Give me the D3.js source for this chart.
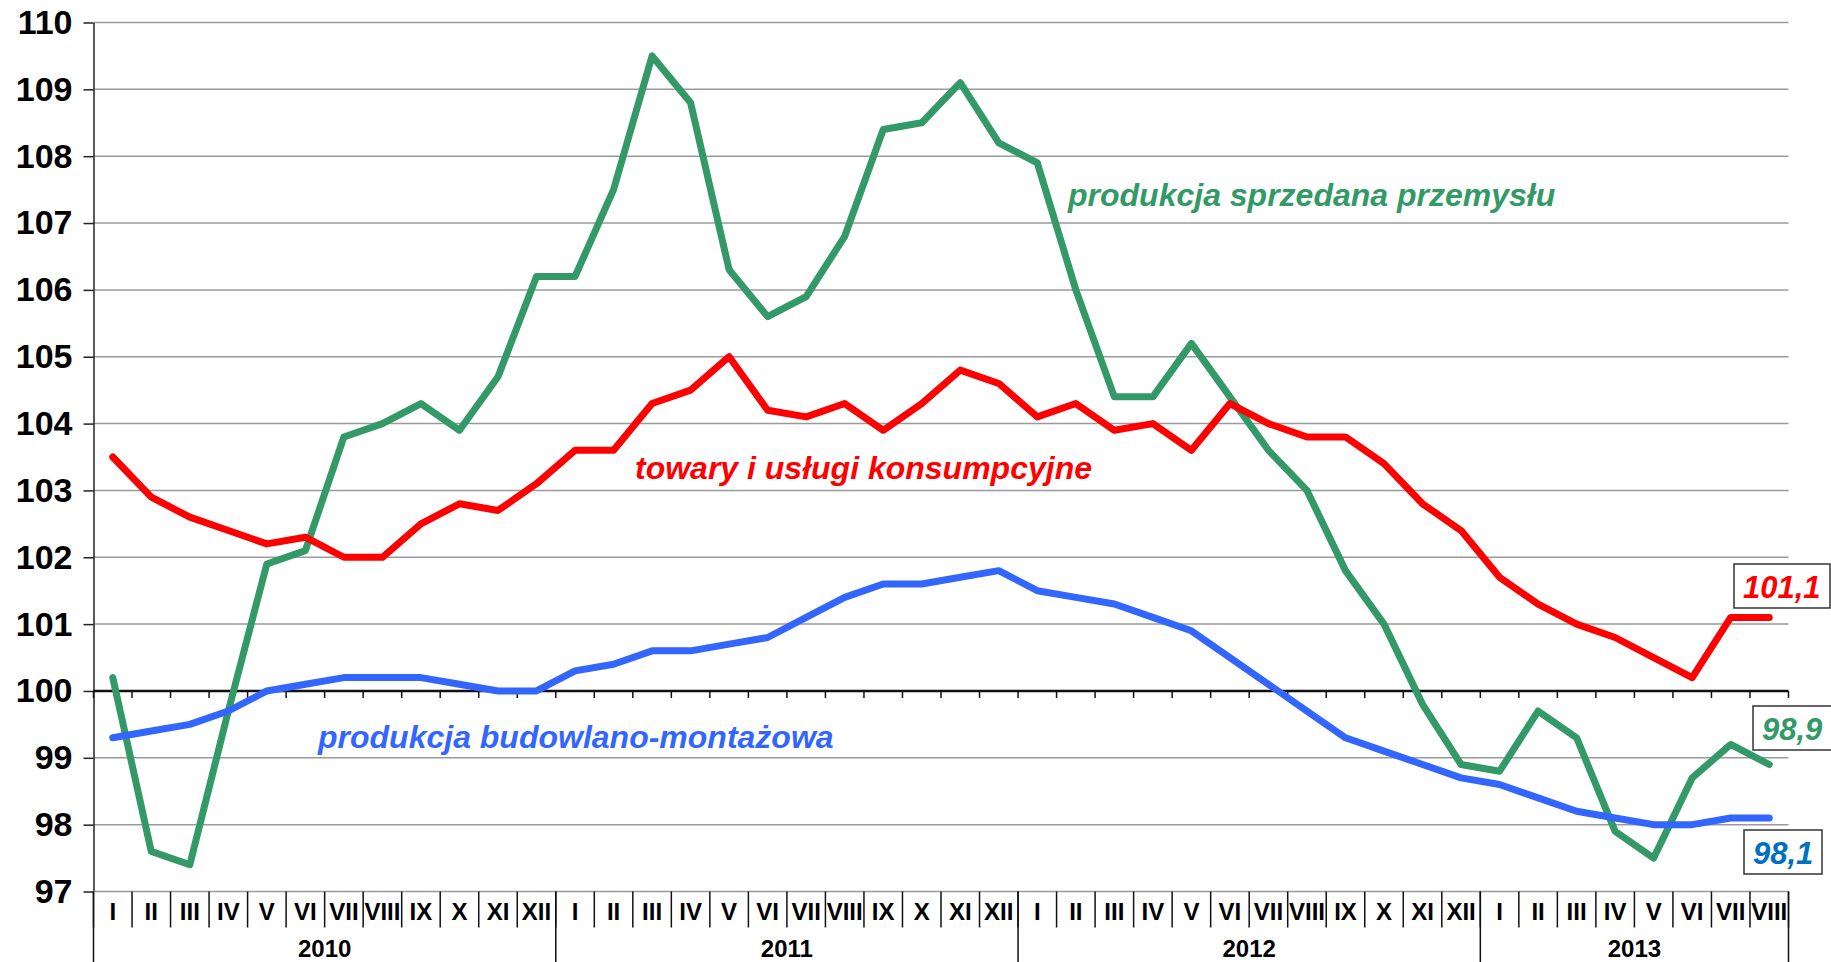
<!DOCTYPE html>
<html>
<head>
<meta charset="utf-8">
<script src="https://cdn.jsdelivr.net/npm/d3@7"></script>
<style>
  body { margin: 0; background: #fff; }
  svg text { font-family: Arial, "Liberation Sans", sans-serif; font-weight: bold; }
</style>
</head>
<body>
<script>
// month and year labels
var monthNames = ["I", "II", "III", "IV", "V", "VI", "VII", "VIII", "IX", "X", "XI", "XII"];
var years = ["2010", "2011", "2012", "2013"];
var monthsInYear = [12, 12, 12, 8];
var yTicks = [97, 98, 99, 100, 101, 102, 103, 104, 105, 106, 107, 108, 109, 110];

// series
var industry = [100.2, 97.6, 97.4, 99.7, 101.9, 102.1, 103.8, 104.0, 104.3, 103.9, 104.7, 106.2,
                106.2, 107.5, 109.5, 108.8, 106.3, 105.6, 105.9, 106.8, 108.4, 108.5, 109.1, 108.2,
                107.9, 106.0, 104.4, 104.4, 105.2, 104.4, 103.6, 103.0, 101.8, 101.0, 99.8, 98.9,
                98.8, 99.7, 99.3, 97.9, 97.5, 98.7, 99.2, 98.9];
var consumer = [103.5, 102.9, 102.6, 102.4, 102.2, 102.3, 102.0, 102.0, 102.5, 102.8, 102.7, 103.1,
                103.6, 103.6, 104.3, 104.5, 105.0, 104.2, 104.1, 104.3, 103.9, 104.3, 104.8, 104.6,
                104.1, 104.3, 103.9, 104.0, 103.6, 104.3, 104.0, 103.8, 103.8, 103.4, 102.8, 102.4,
                101.7, 101.3, 101.0, 100.8, 100.5, 100.2, 101.1, 101.1];
var construction = [99.3, 99.4, 99.5, 99.7, 100.0, 100.1, 100.2, 100.2, 100.2, 100.1, 100.0, 100.0,
                100.3, 100.4, 100.6, 100.6, 100.7, 100.8, 101.1, 101.4, 101.6, 101.6, 101.7, 101.8,
                101.5, 101.4, 101.3, 101.1, 100.9, 100.5, 100.1, 99.7, 99.3, 99.1, 98.9, 98.7,
                98.6, 98.4, 98.2, 98.1, 98.0, 98.0, 98.1, 98.1];

var width = 1831, height = 962;
var plotLeft = 93.5, plotRight = 1788.5, plotTop = 22.5, plotBottom = 891.5;

// index list of months
var idx = [];
var monthLabels = [];
years.forEach(function(yr, i) {
  for (var m = 0; m < monthsInYear[i]; m++) { idx.push(idx.length); monthLabels.push(monthNames[m]); }
});

var svg = d3.select("body").append("svg")
  .attr("width", width).attr("height", height);

var x = d3.scaleBand().domain(idx).range([plotLeft, plotRight]).paddingInner(0).paddingOuter(0);
var y = d3.scaleLinear().domain([97, 110]).range([plotBottom, plotTop]);
var bw = x.bandwidth();

// grid
svg.append("g").selectAll("line")
  .data(yTicks.filter(function(d) { return d != 100 && d != 97; }))
  .enter().append("line")
  .attr("x1", plotLeft).attr("x2", plotRight)
  .attr("y1", function(d) { return y(d); }).attr("y2", function(d) { return y(d); })
  .attr("stroke", "#9a9a9a").attr("stroke-width", 1.5);

// y axis
var yAxis = svg.append("g")
  .attr("transform", "translate(" + plotLeft + ",0)")
  .call(d3.axisLeft(y).tickValues(yTicks).tickSize(10).tickPadding(11).tickSizeOuter(0).tickFormat(d3.format("d")));
yAxis.select(".domain").attr("stroke", "#222").attr("stroke-width", 1.5);
yAxis.selectAll(".tick line").attr("stroke", "#222").attr("stroke-width", 1.5);
yAxis.selectAll(".tick text").attr("font-size", "34px").attr("fill", "#000")
  .attr("font-family", "Arial, 'Liberation Sans', sans-serif").attr("font-weight", "bold");

// bottom category line at 97
svg.append("line").attr("x1", plotLeft).attr("x2", plotRight).attr("y1", plotBottom).attr("y2", plotBottom)
  .attr("stroke", "#9a9a9a").attr("stroke-width", 1.5);

// month separators and labels
var bounds = idx.concat([idx.length]);
function bx(i) { return plotLeft + i * bw; }
svg.append("g").selectAll("line").data(bounds).enter().append("line")
  .attr("x1", bx).attr("x2", bx)
  .attr("y1", plotBottom).attr("y2", plotBottom + 36)
  .attr("stroke", "#111").attr("stroke-width", 1.5);

svg.append("g").selectAll("text").data(idx).enter().append("text")
  .attr("x", function(d) { return x(d) + bw / 2; })
  .attr("y", 920)
  .attr("text-anchor", "middle")
  .attr("font-size", "24px")
  .attr("fill", "#000")
  .text(function(d) { return monthLabels[d]; });

// year separators and labels
var start = 0, yearStarts = [];
monthsInYear.forEach(function(n) { yearStarts.push(start); start += n; });
var yearBounds = yearStarts.concat([idx.length]);
svg.append("g").selectAll("line").data(yearBounds).enter().append("line")
  .attr("x1", bx).attr("x2", bx)
  .attr("y1", plotBottom).attr("y2", height)
  .attr("stroke", "#111").attr("stroke-width", 1.5);

svg.append("g").selectAll("text").data(years).enter().append("text")
  .attr("x", function(d, i) { return bx(yearStarts[i]) + monthsInYear[i] * bw / 2; })
  .attr("y", 957)
  .attr("text-anchor", "middle")
  .attr("font-size", "24px")
  .attr("fill", "#000")
  .text(function(d) { return d; });

// the 100 line with ticks
svg.append("line").attr("x1", plotLeft).attr("x2", plotRight).attr("y1", y(100)).attr("y2", y(100))
  .attr("stroke", "#111").attr("stroke-width", 2.5);
svg.append("g").selectAll("line").data(bounds).enter().append("line")
  .attr("x1", bx).attr("x2", bx)
  .attr("y1", y(100)).attr("y2", y(100) + 7)
  .attr("stroke", "#111").attr("stroke-width", 1.5);

// series
var line = d3.line()
  .x(function(d, i) { return x(i) + bw / 2; })
  .y(function(d) { return y(d); });

var series = [
  [industry, "#339966"],
  [construction, "#3366ff"],
  [consumer, "#ff0000"]
];
series.forEach(function(s) {
  svg.append("path").datum(s[0])
    .attr("d", line)
    .attr("fill", "none")
    .attr("stroke", s[1])
    .attr("stroke-width", 7)
    .attr("stroke-linejoin", "round")
    .attr("stroke-linecap", "round");
});

// series names
var names = [
  ["produkcja sprzedana przemysłu", "#339966", 1068, 206],
  ["towary i usługi konsumpcyjne", "#ff0000", 635, 479],
  ["produkcja budowlano-montażowa", "#3366ff", 318, 748]
];
names.forEach(function(n) {
  svg.append("text")
    .attr("x", n[2]).attr("y", n[3])
    .attr("font-size", "32px")
    .attr("font-style", "italic")
    .attr("fill", n[1])
    .text(n[0]);
});

// last values in boxes
var lastLabels = [
  ["101,1", "#ff0000", 1734, 564, 96, 44, 1743],
  ["98,9", "#339966", 1753, 706, 100, 44, 1762],
  ["98,1", "#0070c0", 1744, 830, 78, 44, 1753]
];
lastLabels.forEach(function(l) {
  svg.append("rect")
    .attr("x", l[2]).attr("y", l[3]).attr("width", l[4]).attr("height", l[5])
    .attr("fill", "#fff").attr("stroke", "#333").attr("stroke-width", 1.5);
  svg.append("text")
    .attr("x", l[6]).attr("y", l[3] + 34)
    .attr("font-size", "31px")
    .attr("font-style", "italic")
    .attr("fill", l[1])
    .text(l[0]);
});
</script>
</body>
</html>
